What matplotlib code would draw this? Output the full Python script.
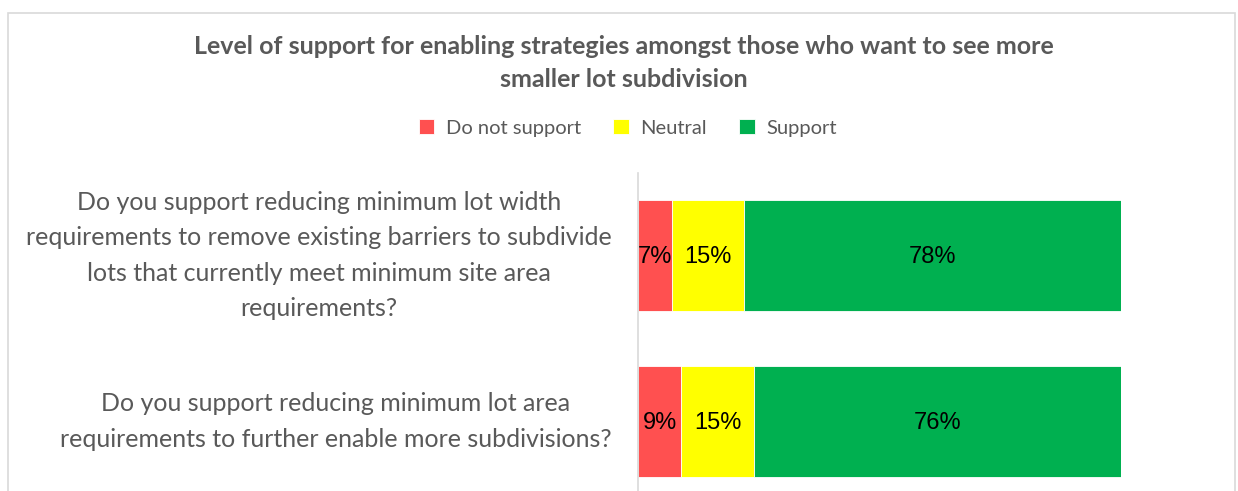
import matplotlib.pyplot as plt
from matplotlib.patches import Rectangle

# survey questions (top to bottom) and share of responses
questions = [
    "Do you support reducing minimum lot width\nrequirements to remove existing barriers to subdivide\nlots that currently meet minimum site area\nrequirements?",
    "Do you support reducing minimum lot area\nrequirements to further enable more subdivisions?",
]
do_not_support = [0.07, 0.09]
neutral = [0.15, 0.15]
support = [0.78, 0.76]

series_names = ["Do not support", "Neutral", "Support"]
colors = ["#FF5050", "#FFFF00", "#00B050"]

grey = "#595959"
plt.rcParams["font.family"] = ["Lato", "DejaVu Sans"]

fig = plt.figure(figsize=(12.38, 4.91), dpi=100)

# light frame round the whole chart
fig.patches.append(Rectangle((8 / 1238, -0.05), 1227 / 1238, 1.05 - 13 / 491,
                             transform=fig.transFigure, fill=False,
                             edgecolor="#D9D9D9", linewidth=1.2))

ax = fig.add_axes([638 / 1238, 1 - 504.5 / 491, (1121 - 638) / 1238, 332 / 491])

ypos = [0, 1]
left = [0, 0]
for name, vals, col in zip(series_names, [do_not_support, neutral, support], colors):
    ax.barh(ypos, vals, left=left, height=0.67, color=col, label=name,
            edgecolor="white", linewidth=0.6)
    for y, l, v in zip(ypos, left, vals):
        ax.text(l + v / 2, y + 0.01, "{:.0%}".format(v), ha="center", va="center",
                fontsize=17, color="black", family="Liberation Sans")
    left = [a + b for a, b in zip(left, vals)]

ax.set_xlim(0, 1)
ax.set_ylim(1.5, -0.5)
ax.set_xticks([])
ax.set_yticks(ypos)
ax.set_yticklabels(questions, fontsize=18, color=grey, va="center",
                   multialignment="center", linespacing=1.65)
ax.tick_params(axis="y", length=0, pad=19)
for side in ["top", "right", "bottom"]:
    ax.spines[side].set_visible(False)
ax.spines["left"].set_color("#D9D9D9")
ax.spines["left"].set_linewidth(1.2)

fig.text(624 / 1238, 1 - 63 / 491,
         "Level of support for enabling strategies amongst those who want to see more\nsmaller lot subdivision",
         ha="center", va="center", fontsize=18, fontweight="bold", color=grey,
         linespacing=1.5)

fig.legend(loc="center", bbox_to_anchor=(628 / 1238, 1 - 128 / 491), ncol=3,
           frameon=False, fontsize=14.5, labelcolor=grey, handlelength=0.75,
           handleheight=0.75, handletextpad=0.6, columnspacing=1.6)

fig.savefig("out.png", dpi=100)
